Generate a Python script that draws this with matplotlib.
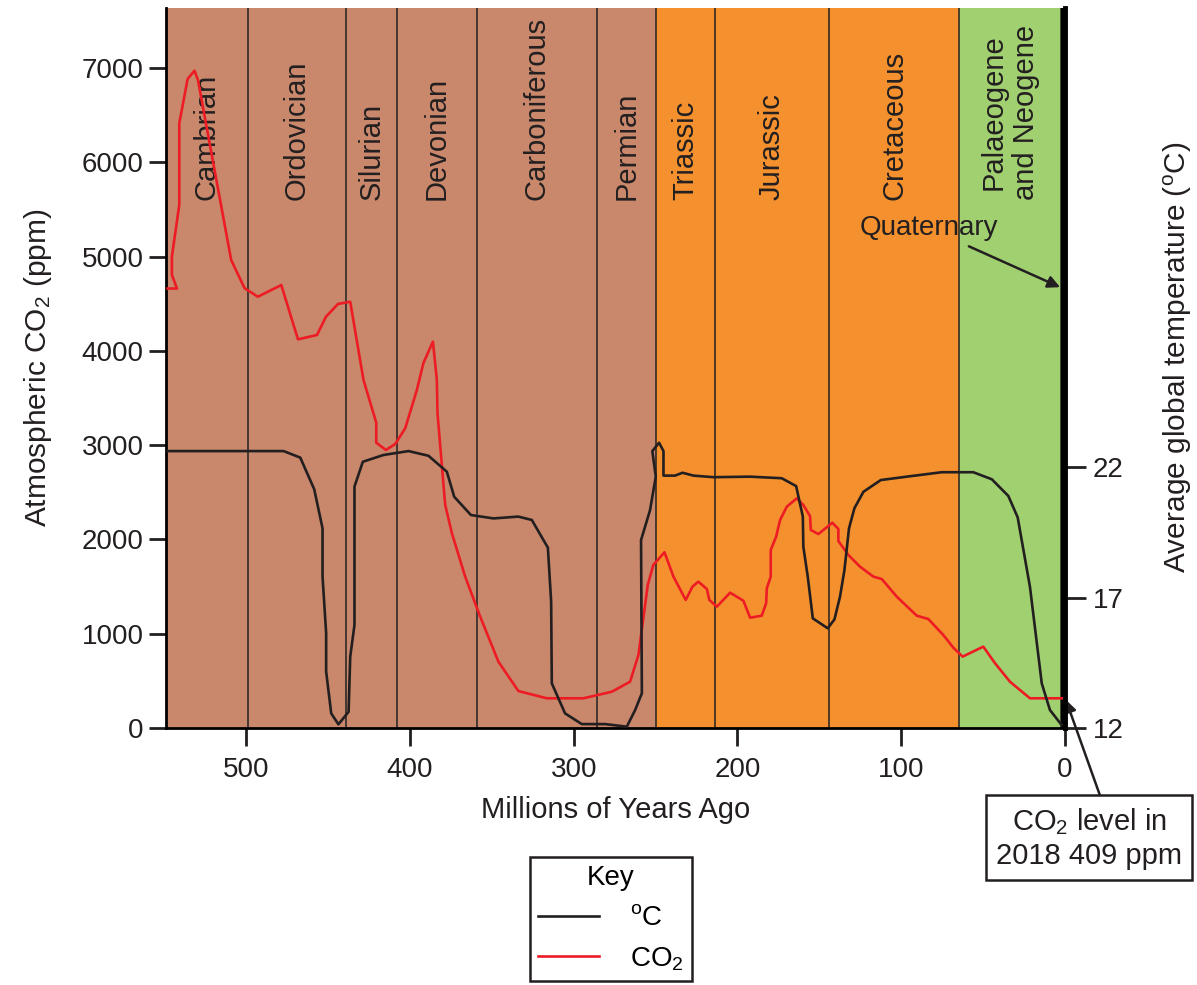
import matplotlib
matplotlib.use('Agg')
import matplotlib.pyplot as plt
from matplotlib.lines import Line2D

# fonts: Arial-like, and subscripts drawn in the same face
plt.rcParams['font.family'] = ['Liberation Sans', 'DejaVu Sans']
plt.rcParams['mathtext.fontset'] = 'custom'
plt.rcParams['mathtext.rm'] = 'Liberation Sans'
plt.rcParams['mathtext.it'] = 'Liberation Sans:italic'
plt.rcParams['mathtext.default'] = 'regular'

# geological periods (millions of years ago), boundaries as drawn on the chart
period_names = ['Cambrian', 'Ordovician', 'Silurian', 'Devonian', 'Carboniferous',
                'Permian', 'Triassic', 'Jurassic', 'Cretaceous', 'Palaeogene\nand Neogene']
period_start = [549, 499, 439, 408, 359, 286, 250, 214, 144, 64.5]
period_end = [499, 439, 408, 359, 286, 250, 214, 144, 64.5, 2.6]
brown = '#C9876B'
orange = '#F4912E'
green = '#A0D070'
period_colors = [brown] * 6 + [orange] * 3 + [green]

# CO2 curve (ppm)
co2_age = [548, 542.3, 545.4, 545.4, 540.9, 540.9, 535.8, 531.6, 529.5, 509.2, 501.0, 492.9,
           478.6, 468.4, 456.8, 451.3, 444.0, 436.5, 428.4, 420.6, 420.6, 414.7, 409.0, 402.9,
           395.8, 391.8, 386.0, 383.6, 383.2, 378.5, 374.4, 366.3, 357.1, 346.0, 333.8, 316.4,
           294.1, 276.7, 265.6, 260.5, 254.8, 251.4, 244.6, 239.1, 231.6, 227.5, 223.9, 218.7,
           217.2, 212.6, 204.5, 196.4, 192.3, 185.2, 182.5, 182.1, 179.7, 179.7, 176.4, 174.0,
           169.9, 163.8, 159.8, 155.7, 155.2, 150.6, 142.1, 138.4, 138.4, 132.3, 125.2, 117.0,
           111.9, 102.7, 90.5, 83.5, 74.3, 68.2, 62.5, 49.9, 42.7, 33.6, 21.4, 2.0]
co2_ppm = [4661, 4661, 4805, 4999, 5547, 6413, 6883, 6971, 6873, 4963, 4664, 4574,
           4698, 4122, 4168, 4362, 4497, 4521, 3691, 3238, 3026, 2949, 3012, 3179,
           3585, 3871, 4097, 3691, 3337, 2365, 2065, 1605, 1180, 703, 392, 315,
           315, 385, 491, 774, 1517, 1729, 1864, 1605, 1358, 1499, 1552, 1474,
           1358, 1287, 1435, 1350, 1170, 1191, 1323, 1482, 1605, 1888, 2029, 2206,
           2347, 2436, 2365, 2248, 2100, 2057, 2177, 2111, 1983, 1835, 1711, 1605,
           1580, 1392, 1191, 1156, 986, 852, 757, 863, 686, 491, 315, 315]

# average global temperature curve (degC)
temp_age = [548.0, 477.2, 467.0, 458.5, 453.4, 453.4, 451.2, 451.2, 448.1, 443.7, 437.5,
            436.5, 433.9, 433.9, 428.8, 416.2, 400.9, 388.7, 377.5, 373.0, 362.8, 349.0,
            333.8, 325.6, 315.8, 313.8, 313.4, 305.3, 295.1, 280.8, 267.6, 262.5, 258.4,
            258.9, 253.4, 249.9, 252.0, 247.9, 245.2, 245.2, 238.1, 233.6, 226.9, 214.7,
            192.3, 173.0, 164.2, 160.1, 159.8, 157.1, 154.0, 144.9, 140.8, 137.4, 134.7,
            131.9, 128.6, 123.1, 112.5, 96.6, 75.3, 56.0, 44.7, 34.6, 28.9, 21.4, 14.2,
            9.2, 2.0]
temp_c = [22.61, 22.61, 22.36, 21.15, 19.65, 17.80, 15.63, 14.16, 12.56, 12.14, 12.62,
          14.73, 15.95, 21.25, 22.20, 22.46, 22.61, 22.43, 21.82, 20.86, 20.16, 20.03,
          20.10, 19.97, 18.91, 16.84, 13.71, 12.56, 12.15, 12.15, 12.05, 12.69, 13.33,
          19.20, 20.35, 21.63, 22.61, 22.93, 22.61, 21.67, 21.67, 21.78, 21.67, 21.61,
          21.63, 21.57, 21.27, 20.10, 18.95, 17.80, 16.20, 15.82, 16.16, 17.03, 18.05,
          19.65, 20.42, 21.05, 21.50, 21.63, 21.80, 21.80, 21.53, 20.89, 20.07, 17.41, 13.71,
          12.69, 12.11]

x_ticks = [500, 400, 300, 200, 100, 0]
co2_ticks = [0, 1000, 2000, 3000, 4000, 5000, 6000, 7000]
temp_ticks = [12, 17, 22]

fig = plt.figure(figsize=(11.97, 9.85), dpi=100)
ax = fig.add_axes([166/1197, 1 - 728/985, (1065-166)/1197, 720/985])

# coloured period bands and their boundaries
for start, end, col in zip(period_start, period_end, period_colors):
    ax.axvspan(start, end, color=col, lw=0, zorder=0)
for b in period_start[1:]:
    ax.axvline(b, color='#222222', lw=1.1, zorder=1)
ax.axvline(period_end[-1], color='#222222', lw=1.1, zorder=1)
ax.axvspan(period_end[-1], 0, color='black', lw=0, zorder=1)

# period names, rotated
for start, end, name in zip(period_start, period_end, period_names):
    ax.text((start + end) / 2, 5600, name, rotation=90, ha='center', va='bottom',
            multialignment='center', fontsize=21, color='#231F20', zorder=2)

ax.plot(co2_age, co2_ppm, color='#ED1C24', lw=1.9, zorder=3)

ax.set_xlim(549, 0)
ax.set_ylim(0, 7636)
ax.set_xticks(x_ticks)
ax.set_yticks(co2_ticks)
ax.tick_params(axis='both', direction='out', labelsize=20, width=2, colors='#231F20')
ax.tick_params(axis='y', length=12, pad=4)
ax.tick_params(axis='x', length=13, pad=8)
ax.spines['top'].set_visible(False)
ax.spines['right'].set_visible(False)
ax.spines['left'].set_linewidth(2)
ax.spines['bottom'].set_linewidth(2)
ax.set_xlabel('Millions of Years Ago', fontsize=21, color='#231F20')
ax.xaxis.set_label_coords(0.5, -0.095)
ax.set_ylabel('Atmospheric CO$_2$ (ppm)', fontsize=21.5, color='#231F20')
ax.yaxis.set_label_coords(-0.125, 0.5)

# temperature on the right axis
ax2 = ax.twinx()
ax2.plot(temp_age, temp_c, color='#231F20', lw=1.9, zorder=3)
ax2.set_ylim(12, 12 + 720 / 26.1)
ax2.set_yticks(temp_ticks)
ax2.tick_params(axis='y', direction='out', length=15, width=2, pad=5, labelsize=20,
                colors='#231F20')
ax2.spines['top'].set_visible(False)
ax2.spines['left'].set_visible(False)
ax2.spines['bottom'].set_visible(False)
ax2.spines['right'].set_linewidth(3.5)
ax2.set_ylabel('Average global temperature ($^{o}$C)', fontsize=21.5, color='#231F20')
ax2.yaxis.set_label_coords(1.107, 0.515)

# annotations
ax.annotate('Quaternary', xy=(3, 4675), xytext=(41, 5300), ha='right', va='center',
            fontsize=20, color='#231F20', zorder=5,
            arrowprops=dict(arrowstyle='-|>', color='#231F20', lw=1.8, shrinkA=4, shrinkB=0,
                            mutation_scale=18))
ax.annotate('CO$_2$ level in\n2018 409 ppm', xy=(-0.5, 300), xycoords='data',
            xytext=(1089, 985 - 838), textcoords='figure pixels', ha='center', va='center',
            fontsize=21, color='#231F20', annotation_clip=False, zorder=5,
            bbox=dict(boxstyle='square,pad=0.35', fc='white', ec='#231F20', lw=1.8),
            arrowprops=dict(arrowstyle='-|>', color='#231F20', lw=1.8, shrinkA=0, shrinkB=0,
                            relpos=(0.58, 1.0), mutation_scale=18))

# key
handles = [Line2D([], [], color='#231F20', lw=1.9), Line2D([], [], color='#ED1C24', lw=1.9)]
leg = fig.legend(handles, ['$^{o}$C', 'CO$_2$'], title='Key', loc='upper left',
                 bbox_to_anchor=(530/1197, 1 - 857/985), fontsize=20, title_fontsize=20,
                 frameon=True, fancybox=False, edgecolor='#231F20', framealpha=1,
                 handlelength=2.2, handletextpad=1.1, borderpad=0.3, labelspacing=0.5,
                 borderaxespad=0)
leg.get_frame().set_linewidth(1.8)

fig.savefig('out.png', dpi=100)
